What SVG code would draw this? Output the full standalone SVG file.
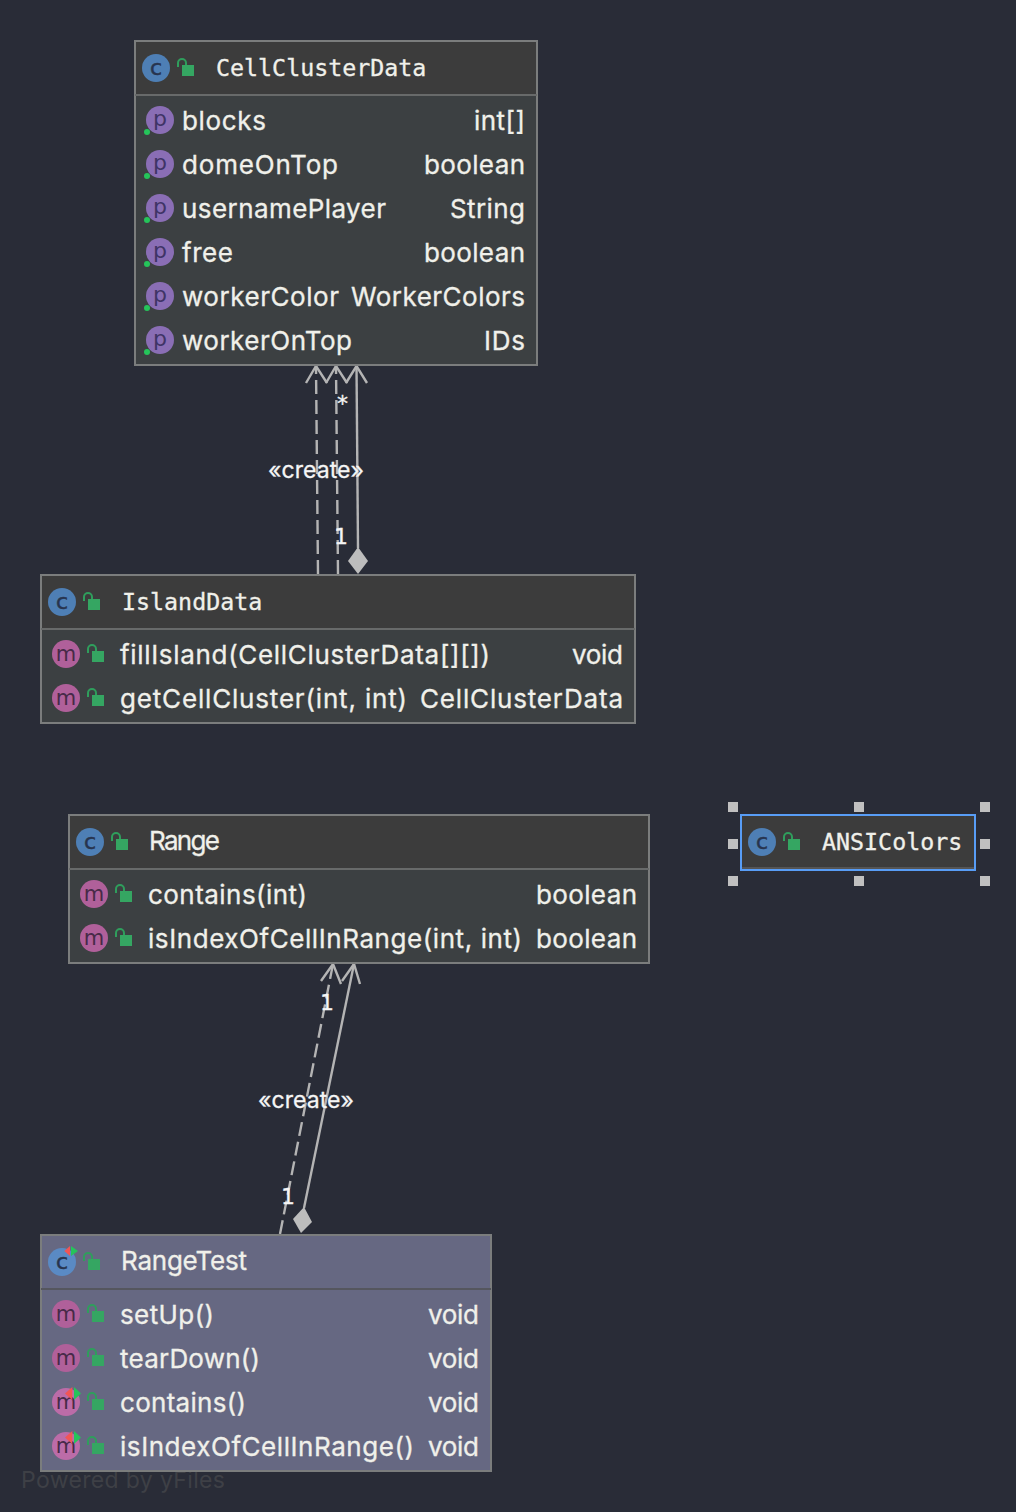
<svg xmlns="http://www.w3.org/2000/svg" xmlns:xlink="http://www.w3.org/1999/xlink" width="1016" height="1512" viewBox="0 0 1016 1512">
<style>
.box{stroke:#7b7d7d;stroke-width:2}
.head{fill:#3c3c3c}.body{fill:#3c4042}
.tb{fill:#666882}
.sep{stroke:#686a6a;stroke-width:2;fill:none}
.sept{stroke:#55565e;stroke-width:2;fill:none}
.t{font-family:"DejaVu Sans Mono",monospace;font-size:23.3px;fill:#f0f0ea;stroke:#f0f0ea;stroke-width:.3}
.l{font-family:"Inter","Noto Sans",sans-serif;font-size:26px;fill:#f0f0ea;stroke:#f0f0ea;stroke-width:.3}
.r{text-anchor:end}
.e{font-family:"Inter","Noto Sans",sans-serif;font-size:23px;fill:#f5f5f5;stroke:#f5f5f5;stroke-width:.3}
.n{font-family:"DejaVu Sans",sans-serif;font-size:22px;fill:#f5f5f5;stroke:#f5f5f5;stroke-width:.3}
.con{stroke:#b4b4b4;stroke-width:2.400;fill:none}
.dash{stroke-dasharray:14 6}
.dia{fill:#bdbdbd;stroke:none}
.h{fill:#c0c0c0}
.ic{font-family:"DejaVu Sans",sans-serif;font-size:22px;text-anchor:middle}
</style>
<defs>
<g id="lock"><path d="M0 1V-3a4 4 0 0 1 8 0V0" transform="translate(-6,-3)" fill="none" stroke="#2f9e5c" stroke-width="2"/><rect x="-2" y="-4" width="12" height="11" fill="#35a662"/></g>
<g id="cic"><circle r="14" fill="#4e7fb5"/><text class="ic" y="6.5" fill="#27344f" stroke="#27344f" stroke-width=".5">c</text></g>
<g id="pic"><circle r="14" fill="#8a6eb5"/><text class="ic" y="6" fill="#3f3466">p</text><circle cx="-13" cy="12" r="3" fill="#25c45a"/></g>
<g id="mic"><circle r="14" fill="#b0609a"/><text class="ic" y="6.5" fill="#472a48" style="font-size:21px">m</text></g>
<g id="mict"><circle r="14" fill="#bc6ca8"/><text class="ic" y="6.5" fill="#472a48" style="font-size:21px">m</text><path d="M6.3-15V-2L-1-8.500Z" fill="#f25555"/><path d="M8-15V-2L15-8.500Z" fill="#25c45a"/></g>
<g id="cict"><circle r="14" fill="#5a8ac4"/><text class="ic" y="6.5" fill="#27344f" stroke="#27344f" stroke-width=".5">c</text><path d="M8-16V-6L2.300-11Z" fill="#f25555"/><path d="M9-16V-6L16-11Z" fill="#25c45a"/></g>
</defs>
<rect width="1016" height="1512" fill="#292c37"/>
<text id="watermark" x="21" y="1488" textLength="204" style="font-family:Inter,'Noto Sans',sans-serif;font-size:23px;fill:#3e4046">Powered by yFiles</text>

<g id="connectors">
<path class="con dash" d="M318 574L316 366"/><path class="con" d="M306 383L316 366L327 383"/>
<path class="con dash" d="M338 574L336 366"/><path class="con" d="M326 383L336 366L347 383"/>
<path class="con" d="M358 548L356.500 366"/><path class="con" d="M346 383L356.500 366L367 383"/>
<path class="dia" d="M358 547L368 561L358 574L348 561Z"/>
<path class="con dash" d="M280 1234L333 964"/><path class="con" d="M321 981L333 964L341 984"/>
<path class="con" d="M304 1208L354 964"/><path class="con" d="M342 981L354 964L360 984"/>
<path class="dia" d="M304 1207L312 1222L301 1233L293 1219Z"/>
<text class="e" x="268" y="478" textLength="96">«create»</text>
<text class="n" x="337" y="411">*</text>
<text class="n" x="334" y="544">1</text>
<text class="e" x="258" y="1108" textLength="96">«create»</text>
<text class="n" x="320" y="1010">1</text>
<text class="n" x="281" y="1204">1</text>
</g>

<g id="CellClusterData">
<rect class="head" x="135" y="41" width="402" height="54"/><rect class="body" x="135" y="95" width="402" height="270"/>
<rect class="box" x="135" y="41" width="402" height="324" fill="none"/><path class="sep" d="M135 95H537"/>
<use xlink:href="#cic" x="156" y="68"/><use xlink:href="#lock" x="184" y="69"/>
<text class="t" x="216" y="76">CellClusterData</text>
<use xlink:href="#pic" x="160" y="120"/><text class="l" x="182" y="130" textLength="84">blocks</text><text class="l r" x="525" y="130" textLength="51">int[]</text>
<use xlink:href="#pic" x="160" y="164"/><text class="l" x="182" y="174" textLength="156">domeOnTop</text><text class="l r" x="525" y="174" textLength="101">boolean</text>
<use xlink:href="#pic" x="160" y="208"/><text class="l" x="182" y="218" textLength="204">usernamePlayer</text><text class="l r" x="525" y="218" textLength="75">String</text>
<use xlink:href="#pic" x="160" y="252"/><text class="l" x="182" y="262" textLength="51">free</text><text class="l r" x="525" y="262" textLength="101">boolean</text>
<use xlink:href="#pic" x="160" y="296"/><text class="l" x="182" y="306" textLength="157">workerColor</text><text class="l r" x="525" y="306" textLength="174">WorkerColors</text>
<use xlink:href="#pic" x="160" y="340"/><text class="l" x="182" y="350" textLength="170">workerOnTop</text><text class="l r" x="525" y="350" textLength="41">IDs</text>
</g>

<g id="IslandData">
<rect class="head" x="41" y="575" width="594" height="54"/><rect class="body" x="41" y="629" width="594" height="94"/>
<rect class="box" x="41" y="575" width="594" height="148" fill="none"/><path class="sep" d="M41 629H635"/>
<use xlink:href="#cic" x="62" y="602"/><use xlink:href="#lock" x="90" y="603"/>
<text class="t" x="122" y="610">IslandData</text>
<use xlink:href="#mic" x="66" y="654"/><use xlink:href="#lock" x="94" y="655"/><text class="l" x="120" y="664" textLength="370">fillIsland(CellClusterData[][])</text><text class="l r" x="623" y="664" textLength="51">void</text>
<use xlink:href="#mic" x="66" y="698"/><use xlink:href="#lock" x="94" y="699"/><text class="l" x="120" y="708" textLength="287">getCellCluster(int, int)</text><text class="l r" x="623" y="708" textLength="203">CellClusterData</text>
</g>

<g id="Range">
<rect class="head" x="69" y="815" width="580" height="54"/><rect class="body" x="69" y="869" width="580" height="94"/>
<rect class="box" x="69" y="815" width="580" height="148" fill="none"/><path class="sep" d="M69 869H649"/>
<use xlink:href="#cic" x="90" y="842"/><use xlink:href="#lock" x="118" y="843"/>
<text class="l" x="149" y="850" textLength="71">Range</text>
<use xlink:href="#mic" x="94" y="894"/><use xlink:href="#lock" x="122" y="895"/><text class="l" x="148" y="904" textLength="159">contains(int)</text><text class="l r" x="637" y="904" textLength="101">boolean</text>
<use xlink:href="#mic" x="94" y="938"/><use xlink:href="#lock" x="122" y="939"/><text class="l" x="148" y="948" textLength="374">isIndexOfCellInRange(int, int)</text><text class="l r" x="637" y="948" textLength="101">boolean</text>
</g>

<g id="ANSIColors">
<rect class="head" x="741" y="815" width="234" height="55" stroke="#589df6" stroke-width="2"/>
<path d="M742 868H974" stroke="#555" stroke-width="2" fill="none"/>
<use xlink:href="#cic" x="762" y="842"/><use xlink:href="#lock" x="790" y="843"/>
<text class="t" x="822" y="850">ANSIColors</text>
<g class="h"><rect x="728" y="802" width="10" height="10"/><rect x="854" y="802" width="10" height="10"/><rect x="980" y="802" width="10" height="10"/><rect x="728" y="839" width="10" height="10"/><rect x="980" y="839" width="10" height="10"/><rect x="728" y="876" width="10" height="10"/><rect x="854" y="876" width="10" height="10"/><rect x="980" y="876" width="10" height="10"/></g>
</g>

<g id="RangeTest">
<rect class="tb box" x="41" y="1235" width="450" height="236"/><path class="sept" d="M41 1289H491"/>
<use xlink:href="#cict" x="62" y="1262"/><use xlink:href="#lock" x="90" y="1263"/>
<text class="l" x="121" y="1270" textLength="126">RangeTest</text>
<use xlink:href="#mic" x="66" y="1314"/><use xlink:href="#lock" x="94" y="1315"/><text class="l" x="120" y="1324" textLength="94">setUp()</text><text class="l r" x="479" y="1324" textLength="51">void</text>
<use xlink:href="#mic" x="66" y="1358"/><use xlink:href="#lock" x="94" y="1359"/><text class="l" x="120" y="1368" textLength="140">tearDown()</text><text class="l r" x="479" y="1368" textLength="51">void</text>
<use xlink:href="#mict" x="66" y="1402"/><use xlink:href="#lock" x="94" y="1403"/><text class="l" x="120" y="1412" textLength="126">contains()</text><text class="l r" x="479" y="1412" textLength="51">void</text>
<use xlink:href="#mict" x="66" y="1446"/><use xlink:href="#lock" x="94" y="1447"/><text class="l" x="120" y="1456" textLength="294">isIndexOfCellInRange()</text><text class="l r" x="479" y="1456" textLength="51">void</text>
</g>
</svg>
